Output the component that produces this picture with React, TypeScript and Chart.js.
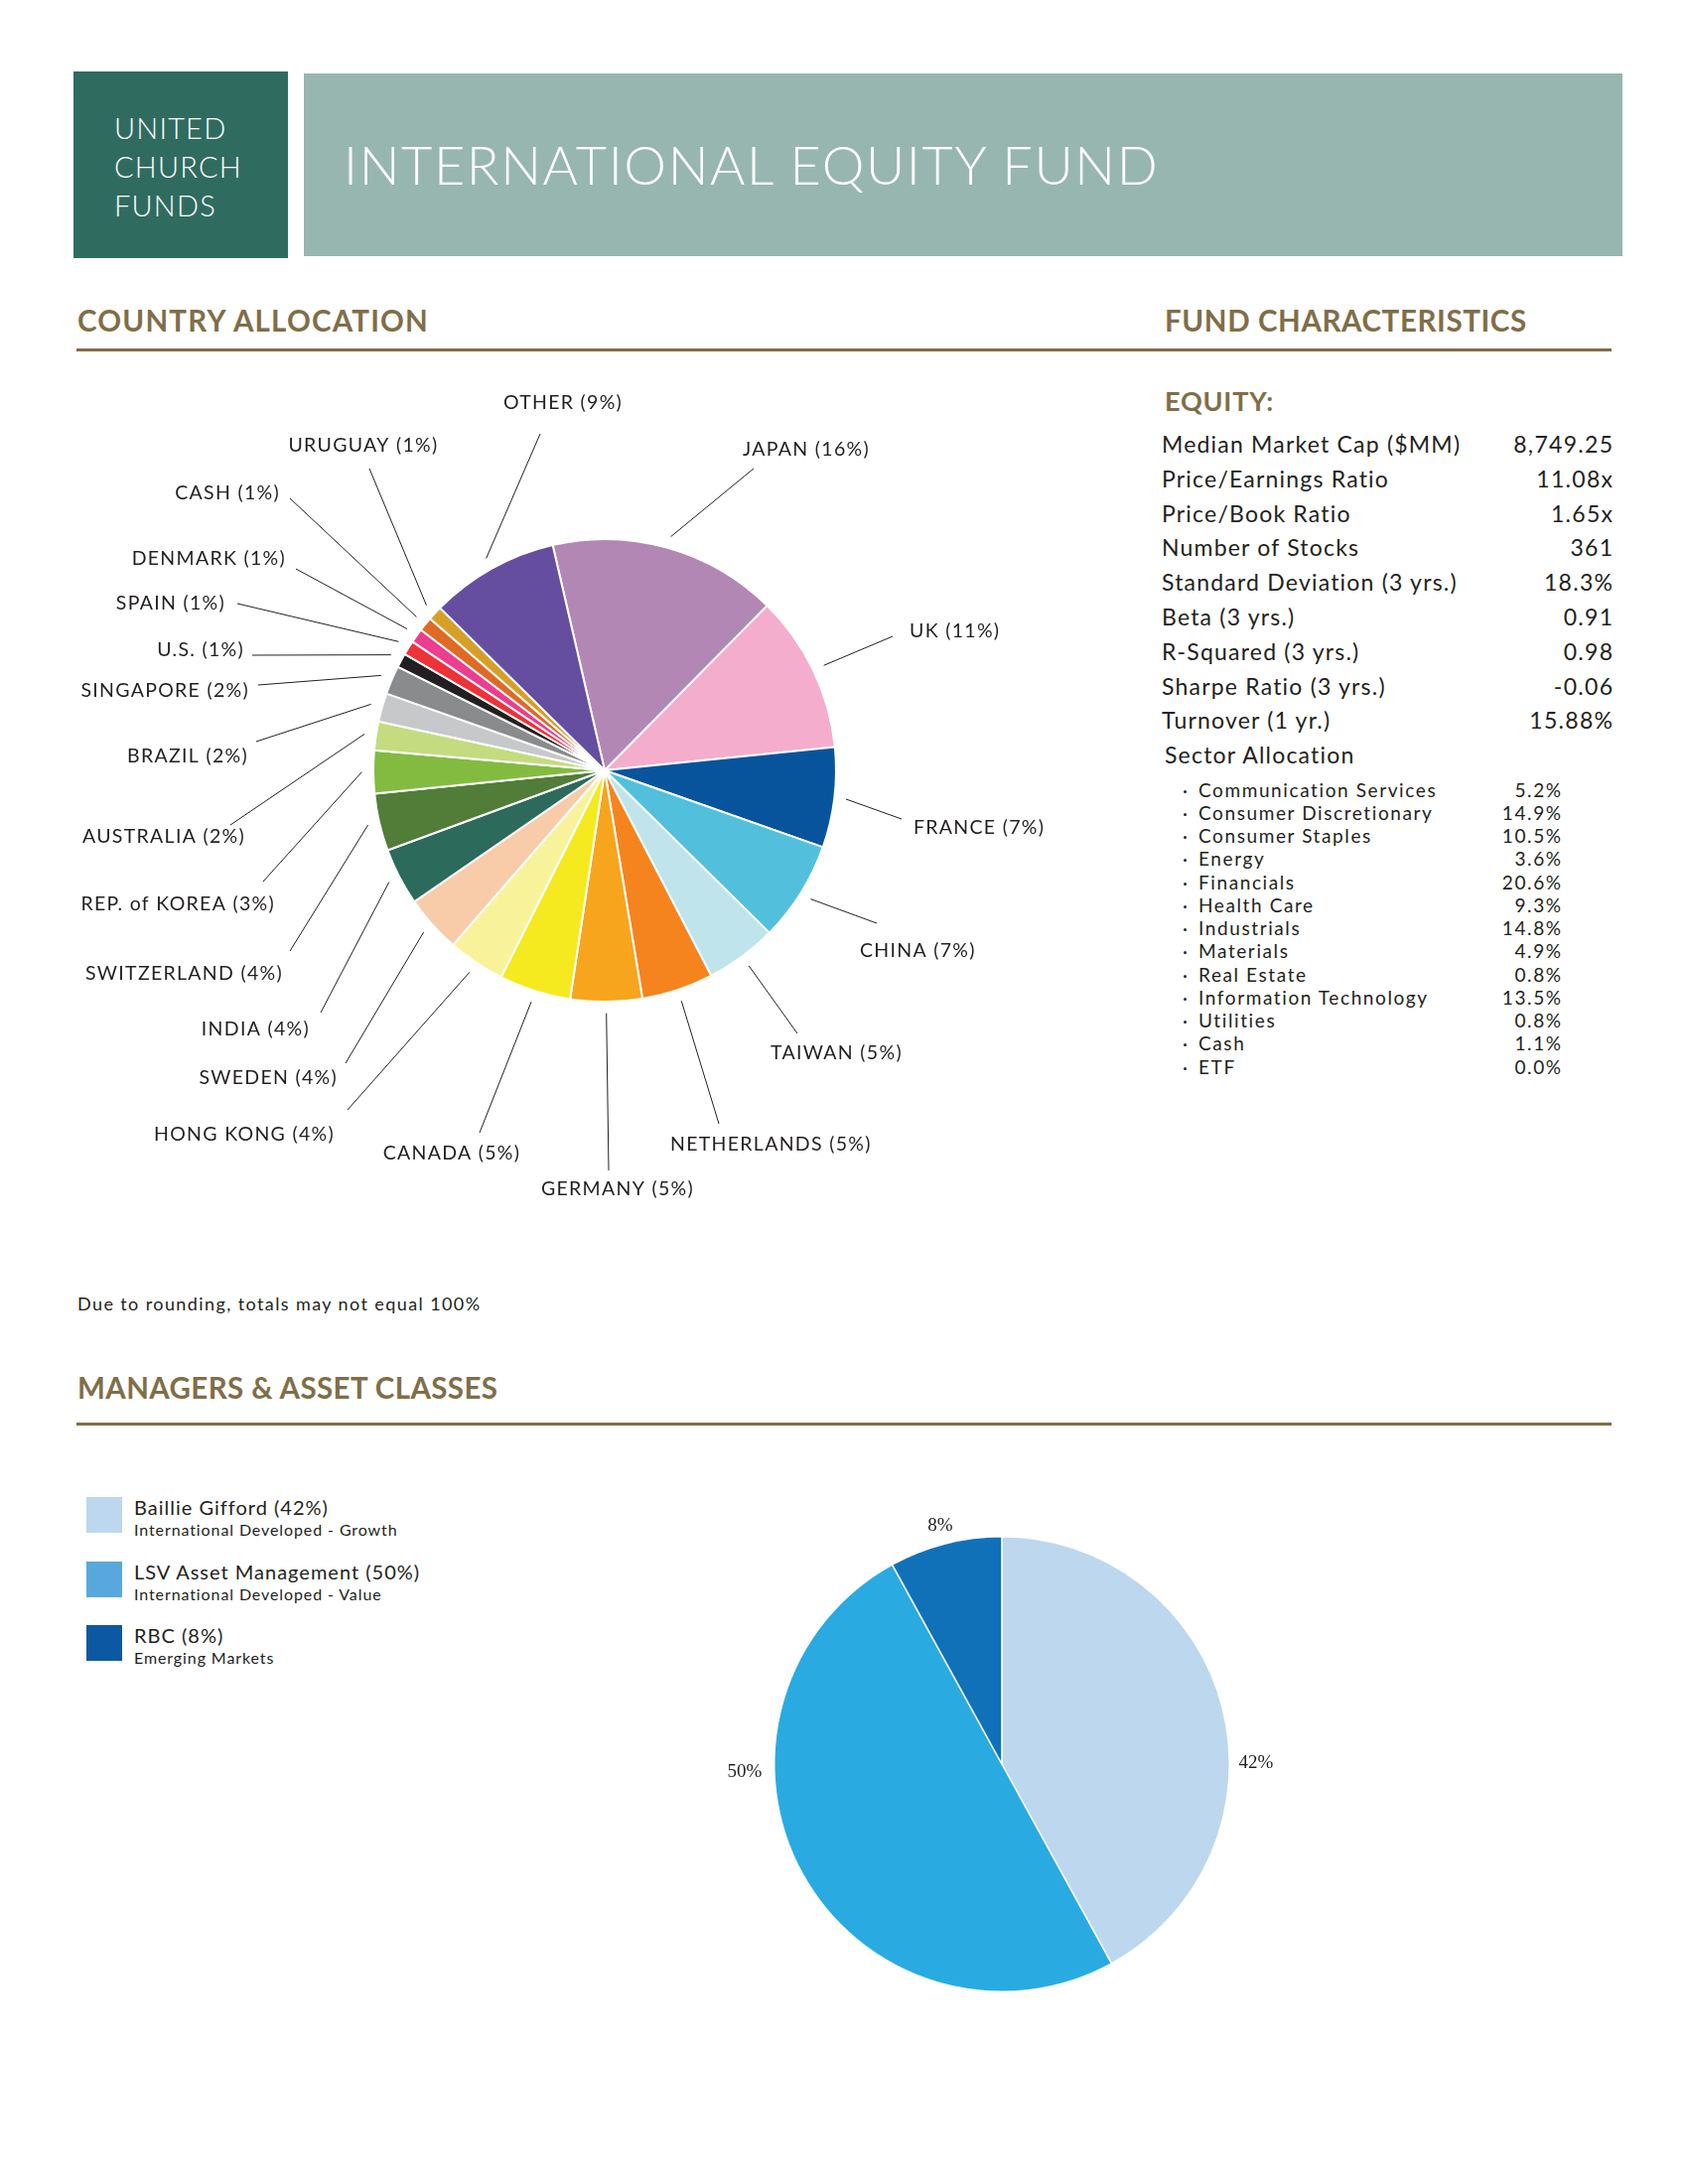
import React, { useEffect, useRef } from "react";
import { Chart, registerables } from "chart.js";

Chart.register(...registerables);

// ---------- DATA ----------
const COUNTRY_NAMES = [
  "JAPAN", "UK", "FRANCE", "CHINA", "TAIWAN", "NETHERLANDS", "GERMANY", "CANADA",
  "HONG KONG", "SWEDEN", "INDIA", "SWITZERLAND", "REP. of KOREA", "AUSTRALIA",
  "BRAZIL", "SINGAPORE", "U.S.", "SPAIN", "DENMARK", "CASH", "URUGUAY", "OTHER",
];
const COUNTRY_PCT = [16, 11, 7, 7, 5, 5, 5, 5, 4, 4, 4, 4, 3, 2, 2, 2, 1, 1, 1, 1, 1, 9];

const MANAGER_NAMES = ["Baillie Gifford", "LSV Asset Management", "RBC"];
const MANAGER_CLASSES = ["International Developed - Growth", "International Developed - Value", "Emerging Markets"];
const MANAGER_PCT = [42, 50, 8];

const FUND_LABELS = [
  "Median Market Cap ($MM)", "Price/Earnings Ratio", "Price/Book Ratio", "Number of Stocks",
  "Standard Deviation (3 yrs.)", "Beta (3 yrs.)", "R-Squared (3 yrs.)", "Sharpe Ratio (3 yrs.)",
  "Turnover (1 yr.)",
];
const FUND_VALUES = ["8,749.25", "11.08x", "1.65x", "361", "18.3%", "0.91", "0.98", "-0.06", "15.88%"];

const SECTOR_LABELS = [
  "Communication Services", "Consumer Discretionary", "Consumer Staples", "Energy", "Financials",
  "Health Care", "Industrials", "Materials", "Real Estate", "Information Technology", "Utilities",
  "Cash", "ETF",
];
const SECTOR_VALUES = ["5.2%", "14.9%", "10.5%", "3.6%", "20.6%", "9.3%", "14.8%", "4.9%", "0.8%", "13.5%", "0.8%", "1.1%", "0.0%"];

// ---------- STYLES ----------
const COUNTRY_COLORS = [
  "#b387b4", "#f4adcd", "#08549c", "#52c0dc", "#bfe4ec", "#f5841f", "#f7a51c", "#f4ea1f",
  "#f8f39b", "#f8cba9", "#2c6a5b", "#517d38", "#83bb41", "#c4dc7f", "#c7c8ca", "#898b8d",
  "#231f20", "#ed3338", "#ec3d8e", "#df6a26", "#d6a028", "#654ea0",
];
const MANAGER_COLORS = ["#bdd7ee", "#29abe2", "#1071b9"];
const MANAGER_LEGEND_COLORS = ["#bdd7ee", "#58a8dd", "#0c58a2"];

// label layout relative to pie centre: [textX, textY, align, lineEndX, lineEndY]
type Lay = [number, number, CanvasTextAlign, number, number];
const COUNTRY_LABEL_LAYOUT: Lay[] = [
  [203, -323, "center", 150, -304],
  [307, -140, "left", 290, -135],
  [311, 58, "left", 299, 49],
  [257, 182, "left", 274, 154],
  [167, 285, "left", 194, 265],
  [66, 377, "left", 115, 356],
  [13, 422, "center", 4, 403],
  [-154, 386, "center", -126, 365],
  [-272, 367, "right", -259, 342],
  [-269, 310, "right", -261, 295],
  [-297, 261, "right", -286, 244],
  [-324, 205, "right", -317, 182],
  [-332, 135, "right", -344, 112],
  [-362, 67, "right", -377, 55],
  [-359, -14, "right", -351, -29],
  [-358, -80, "right", -349, -86],
  [-363, -121, "right", -355, -116],
  [-382, -168, "right", -370, -168],
  [-321, -213, "right", -311, -203],
  [-327, -279, "right", -317, -274],
  [-243, -327, "center", -237, -304],
  [-42, -370, "center", -65, -339],
];
const MANAGER_LABEL_LAYOUT: [number, number][] = [
  [256, -1],
  [-259, 8],
  [-62, -240],
];

const GOLD = "#7f6e48";
const INK = "#231f20";
const SANS = "Lato, 'Open Sans', sans-serif";

function CountryPie() {
  const ref = useRef<HTMLCanvasElement>(null);
  useEffect(() => {
    const labelPlugin = {
      id: "countryLabels",
      afterDatasetsDraw(chart: any) {
        const ctx = chart.ctx as CanvasRenderingContext2D;
        const meta = chart.getDatasetMeta(0);
        ctx.save();
        ctx.font = `19.5px ${SANS}`;
        (ctx as any).letterSpacing = "1.3px";
        ctx.fillStyle = INK;
        ctx.strokeStyle = INK;
        ctx.lineWidth = 1;
        ctx.textBaseline = "middle";
        meta.data.forEach((arc: any, i: number) => {
          const { x, y, startAngle, endAngle, outerRadius } = arc.getProps(
            ["x", "y", "startAngle", "endAngle", "outerRadius"], true);
          const mid = (startAngle + endAngle) / 2;
          const r0 = outerRadius * 1.05;
          const lay = COUNTRY_LABEL_LAYOUT[i];
          ctx.beginPath();
          ctx.moveTo(x + Math.cos(mid) * r0, y + Math.sin(mid) * r0);
          ctx.lineTo(x + lay[3], y + lay[4]);
          ctx.stroke();
          ctx.textAlign = lay[2];
          ctx.fillText(`${COUNTRY_NAMES[i]} (${COUNTRY_PCT[i]}%)`, x + lay[0], y + lay[1]);
        });
        ctx.restore();
      },
    };
    const chart = new Chart(ref.current!, {
      type: "pie",
      data: {
        labels: COUNTRY_NAMES,
        datasets: [{
          data: COUNTRY_PCT,
          backgroundColor: COUNTRY_COLORS,
          borderColor: "#ffffff",
          borderWidth: 2,
          hoverOffset: 0,
        }],
      },
      options: {
        responsive: false,
        animation: false,
        events: [],
        rotation: -13,
        layout: { padding: { left: 335, right: 297, top: 182, bottom: 250 } },
        plugins: { legend: { display: false }, tooltip: { enabled: false } },
      },
      plugins: [labelPlugin],
    });
    return () => chart.destroy();
  }, []);
  return (
    <canvas ref={ref} width={1100} height={900}
      style={{ position: "absolute", left: 40, top: 360, width: 1100, height: 900 }} />
  );
}

function ManagerPie() {
  const ref = useRef<HTMLCanvasElement>(null);
  useEffect(() => {
    const labelPlugin = {
      id: "managerLabels",
      afterDatasetsDraw(chart: any) {
        const ctx = chart.ctx as CanvasRenderingContext2D;
        const meta = chart.getDatasetMeta(0);
        ctx.save();
        ctx.font = `19px 'Liberation Serif', 'DejaVu Serif', serif`;
        ctx.fillStyle = INK;
        ctx.textAlign = "center";
        ctx.textBaseline = "middle";
        meta.data.forEach((arc: any, i: number) => {
          const { x, y } = arc.getProps(["x", "y"], true);
          const lay = MANAGER_LABEL_LAYOUT[i];
          ctx.fillText(`${MANAGER_PCT[i]}%`, x + lay[0], y + lay[1]);
        });
        ctx.restore();
      },
    };
    const chart = new Chart(ref.current!, {
      type: "pie",
      data: {
        labels: MANAGER_NAMES,
        datasets: [{
          data: MANAGER_PCT,
          backgroundColor: MANAGER_COLORS,
          borderColor: "#ffffff",
          borderWidth: 1.5,
          hoverOffset: 0,
        }],
      },
      options: {
        responsive: false,
        animation: false,
        events: [],
        rotation: 0,
        layout: { padding: { left: 79, right: 101, top: 47, bottom: 53 } },
        plugins: { legend: { display: false }, tooltip: { enabled: false } },
      },
      plugins: [labelPlugin],
    });
    return () => chart.destroy();
  }, []);
  return (
    <canvas ref={ref} width={640} height={560}
      style={{ position: "absolute", left: 700, top: 1500, width: 640, height: 560 }} />
  );
}

function T(props: {
  x: number; y: number; size: number; children: React.ReactNode; right?: boolean;
  color?: string; weight?: number; family?: string; spacing?: number;
}) {
  const h = Math.round(props.size * 1.4);
  const style: React.CSSProperties = {
    position: "absolute",
    top: props.y - h / 2,
    height: h,
    lineHeight: `${h}px`,
    fontSize: props.size,
    fontFamily: props.family || SANS,
    fontWeight: props.weight || 400,
    color: props.color || INK,
    whiteSpace: "nowrap",
    letterSpacing: props.spacing ? `${props.spacing}px` : undefined,
  };
  if (props.right) {
    style.right = 1700 - props.x - (props.spacing || 0);
  } else style.left = props.x;
  return <div style={style}>{props.children}</div>;
}

export default function App() {
  const rowY = FUND_LABELS.map((_, i) => 447 + i * 34.8);
  const sectorY = SECTOR_LABELS.map((_, i) => 795 + i * 23.25);
  const legendTop = [1508, 1573, 1637];
  return (
    <div style={{ position: "absolute", left: 0, top: 0, width: 1700, height: 2200, background: "#fff", overflow: "hidden" }}>
      {/* Header */}
      <div style={{ position: "absolute", left: 74, top: 72, width: 216, height: 188, background: "#2f6c5f" }} />
      <div style={{ position: "absolute", left: 306, top: 74, width: 1328, height: 184, background: "#98b6b0" }} />
      <T x={115} y={128} size={29} color="#fff" weight={300} spacing={1.2}>UNITED</T>
      <T x={115} y={167} size={29} color="#fff" weight={300} spacing={1.2}>CHURCH</T>
      <T x={115} y={206} size={29} color="#fff" weight={300} spacing={1.2}>FUNDS</T>
      <T x={346} y={166} size={54} color="#fff" weight={300} spacing={1.6}>INTERNATIONAL EQUITY FUND</T>

      {/* Section heads */}
      <T x={78} y={322} size={29.5} color={GOLD} weight={700} spacing={1.2}>COUNTRY ALLOCATION</T>
      <T x={1173} y={322} size={29.5} color={GOLD} weight={700} spacing={0.6}>FUND CHARACTERISTICS</T>
      <div style={{ position: "absolute", left: 77, top: 351, width: 1546, height: 3, background: GOLD }} />

      {/* Fund characteristics */}
      <T x={1173} y={404} size={27} color={GOLD} weight={700} spacing={0.8}>EQUITY:</T>
      {FUND_LABELS.map((l, i) => (
        <T key={l} x={1170} y={rowY[i]} size={23} spacing={1.2}>{l}</T>
      ))}
      {FUND_VALUES.map((v, i) => (
        <T key={"v" + i} x={1624} y={rowY[i]} size={23} right spacing={1.3}>{v}</T>
      ))}
      <T x={1173} y={760} size={23} spacing={1.2}>Sector Allocation</T>
      {SECTOR_LABELS.map((l, i) => (
        <React.Fragment key={l}>
          <T x={1191} y={sectorY[i]} size={19}>·</T>
          <T x={1207} y={sectorY[i]} size={19} spacing={1.6}>{l}</T>
          <T x={1572} y={sectorY[i]} size={19} right spacing={1.6}>{SECTOR_VALUES[i]}</T>
        </React.Fragment>
      ))}

      <CountryPie />

      <T x={78} y={1313} size={18} spacing={1.4}>Due to rounding, totals may not equal 100%</T>

      <T x={78} y={1397} size={29.5} color={GOLD} weight={700} spacing={0.4}>MANAGERS &amp; ASSET CLASSES</T>
      <div style={{ position: "absolute", left: 77, top: 1433, width: 1546, height: 3, background: GOLD }} />

      {MANAGER_NAMES.map((n, i) => (
        <React.Fragment key={n}>
          <div style={{ position: "absolute", left: 87, top: legendTop[i], width: 36, height: 36, background: MANAGER_LEGEND_COLORS[i] }} />
          <T x={135} y={legendTop[i] + 10} size={20} spacing={1}>{`${n} (${MANAGER_PCT[i]}%)`}</T>
          <T x={135} y={legendTop[i] + 33} size={16} spacing={0.9}>{MANAGER_CLASSES[i]}</T>
        </React.Fragment>
      ))}

      <ManagerPie />
    </div>
  );
}
